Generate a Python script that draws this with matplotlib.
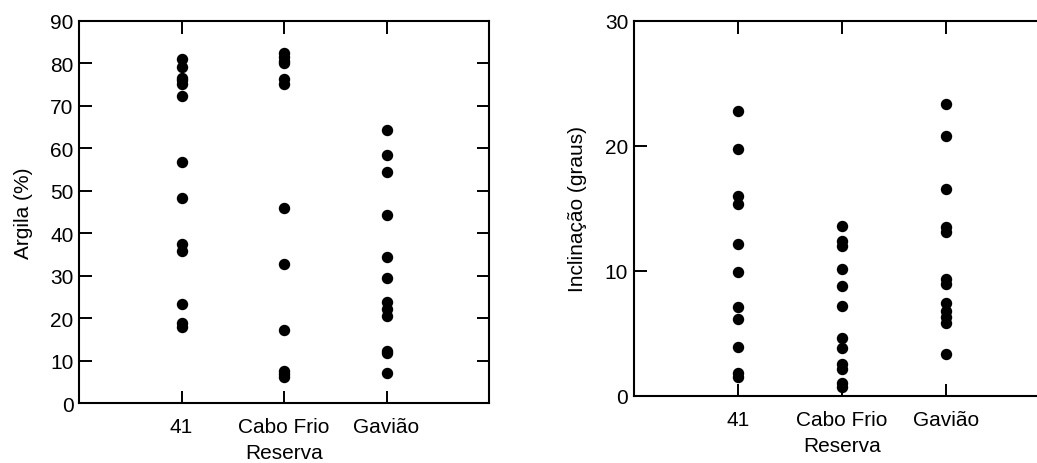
import matplotlib.pyplot as plt

plt.rcParams['font.family'] = ['Liberation Sans', 'DejaVu Sans']
plt.rcParams['font.size'] = 15

reservas = ['41', 'Cabo Frio', 'Gavião']

# Argila (%)
argila_41 = [81.0, 79.0, 76.6, 76.0, 75.0, 72.3, 56.8, 48.4, 37.5, 35.9, 23.4, 18.9, 17.9]
argila_cabo = [82.5, 81.5, 80.6, 80.0, 76.3, 75.1, 45.9, 32.8, 17.2, 7.7, 6.9, 6.1]
argila_gaviao = [64.4, 58.3, 54.3, 44.3, 34.5, 29.4, 23.8, 22.2, 20.6, 12.4, 11.8, 7.1]

# Inclinacao (graus)
incl_41 = [22.8, 19.7, 16.0, 15.3, 12.1, 9.9, 7.1, 6.1, 3.9, 1.8, 1.5]
incl_cabo = [13.6, 12.4, 12.0, 10.1, 8.8, 7.2, 4.6, 3.8, 2.5, 2.1, 1.0, 0.7]
incl_gaviao = [23.3, 20.8, 16.5, 13.5, 13.1, 9.3, 8.9, 7.4, 6.8, 6.3, 5.8, 3.3]

fig = plt.figure(figsize=(10.37, 4.64), dpi=100)
ax1 = fig.add_axes([0.0762, 0.1287, 0.3954, 0.8245])
ax2 = fig.add_axes([0.6111, 0.1450, 0.4011, 0.8082])


def style(ax, ymax, yticks):
    for s in ax.spines.values():
        s.set_linewidth(1.5)
    ax.tick_params(direction='in', length=9, width=1.4, top=True, right=True,
                   labelsize=15)
    ax.tick_params(axis='y', pad=4)
    ax.tick_params(axis='x', pad=10)
    ax.set_xlim(0, 4)
    ax.set_ylim(0, ymax)
    ax.set_yticks(yticks)
    ax.set_xticks([1, 2, 3])
    ax.set_xticklabels(reservas)
    ax.set_xlabel('Reserva', labelpad=5)


groups1 = [argila_41, argila_cabo, argila_gaviao]
for i, vals in enumerate(groups1):
    ax1.plot([i + 1] * len(vals), vals, 'o', color='black', markersize=7.2,
             clip_on=False)
style(ax1, 90, range(0, 91, 10))
ax1.set_ylabel('Argila (%)', labelpad=12)

groups2 = [incl_41, incl_cabo, incl_gaviao]
for i, vals in enumerate(groups2):
    ax2.plot([i + 1] * len(vals), vals, 'o', color='black', markersize=7.2,
             clip_on=False)
style(ax2, 30, [0, 10, 20, 30])
ax2.set_ylabel('Inclinação (graus)', labelpad=13)

fig.savefig('out.png', dpi=100)
